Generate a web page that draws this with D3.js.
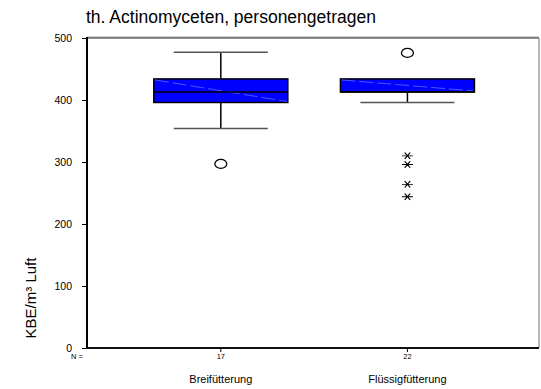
<!DOCTYPE html>
<html>
<head>
<meta charset="utf-8">
<script src="https://cdn.jsdelivr.net/npm/d3@7"></script>
<style>
  body { margin: 0; background: #fff; }
  text { font-family: "Liberation Sans", Arial, sans-serif; fill: #000; }
</style>
</head>
<body>
<div id="chart"></div>
<script>
// data
const categories = ['Breifütterung', 'Flüssigfütterung'];
const counts = [17, 22];
const q1 = [396, 413];
const medians = [413, 413];
const q3 = [434, 434];
const whiskerLow = [354, 396];
const whiskerHigh = [477, 434];
const outliers = [[297], [476]];             // circles
const extremes = [[], [310, 296, 264, 244]]; // asterisks
const yTicks = [0, 100, 200, 300, 400, 500];

const W = 541, H = 389;
const pLeft = 87, pRight = 539, pTop = 38, pBottom = 348;

const svg = d3.select('#chart').append('svg')
    .attr('width', W)
    .attr('height', H);

const x = d3.scaleLinear().domain([0.283, 2.705]).range([pLeft, pRight]);
const y = d3.scaleLinear().domain([0, 500]).range([pBottom, pTop]);

const boxW = 134, capW = 94;

// frame (top + right, greyish)
svg.append('line').attr('x1', pLeft).attr('x2', pRight).attr('y1', pTop - 1).attr('y2', pTop - 1)
    .attr('stroke', '#aaa').attr('stroke-width', 1);
svg.append('line').attr('x1', pLeft).attr('x2', pRight).attr('y1', pTop).attr('y2', pTop)
    .attr('stroke', '#222').attr('stroke-width', 1);
svg.append('line').attr('x1', pRight).attr('x2', pRight).attr('y1', pTop).attr('y2', pBottom)
    .attr('stroke', '#888').attr('stroke-width', 1.2);

// y axis
const yAxis = d3.axisLeft(y).tickValues(yTicks).tickSize(5).tickPadding(10);
const ya = svg.append('g').attr('transform', `translate(${pLeft},0)`).call(yAxis);
ya.select('.domain').remove();
ya.selectAll('.tick line').attr('stroke', '#000');
ya.selectAll('.tick text').style('font-size', '10.5px');
svg.append('line').attr('x1', pLeft).attr('x2', pLeft).attr('y1', pTop - 1).attr('y2', pBottom + 1)
    .attr('stroke', '#000').attr('stroke-width', 2);

// x axis
svg.append('line').attr('x1', pLeft - 1).attr('x2', pRight).attr('y1', pBottom).attr('y2', pBottom)
    .attr('stroke', '#111').attr('stroke-width', 2);
categories.forEach((c, i) => {
    const cx = x(i + 1);
    svg.append('line').attr('x1', cx).attr('x2', cx).attr('y1', pBottom).attr('y2', pBottom + 4)
        .attr('stroke', '#000').attr('stroke-width', 1);
    svg.append('text').attr('x', cx).attr('y', 359).attr('text-anchor', 'middle')
        .style('font-size', '7.5px').text(counts[i]);
    svg.append('text').attr('x', cx).attr('y', 383).attr('text-anchor', 'middle')
        .style('font-size', '11px').text(c);
});
svg.append('text').attr('x', 77).attr('y', 359).attr('text-anchor', 'middle')
    .style('font-size', '7.5px').text('N =');

const star = d3.symbol().type(d3.symbolAsterisk).size(70);

// boxes
categories.forEach((c, i) => {
    const cx = x(i + 1);
    const g = svg.append('g');
    // whiskers
    g.append('line').attr('x1', cx).attr('x2', cx).attr('y1', y(q3[i])).attr('y2', y(whiskerHigh[i]))
        .attr('stroke', '#000').attr('stroke-width', 1.5);
    g.append('line').attr('x1', cx).attr('x2', cx).attr('y1', y(q1[i])).attr('y2', y(whiskerLow[i]))
        .attr('stroke', '#000').attr('stroke-width', 1.5);
    if (whiskerHigh[i] !== q3[i]) {
        g.append('line').attr('x1', cx - capW / 2).attr('x2', cx + capW / 2)
            .attr('y1', y(whiskerHigh[i])).attr('y2', y(whiskerHigh[i]))
            .attr('stroke', '#555').attr('stroke-width', 1.5);
    }
    g.append('line').attr('x1', cx - capW / 2).attr('x2', cx + capW / 2)
        .attr('y1', y(whiskerLow[i])).attr('y2', y(whiskerLow[i]))
        .attr('stroke', '#555').attr('stroke-width', 1.5);
    // box
    g.append('rect').attr('x', cx - boxW / 2).attr('y', y(q3[i]))
        .attr('width', boxW).attr('height', y(q1[i]) - y(q3[i]))
        .attr('fill', '#0000ff').attr('stroke', '#000').attr('stroke-width', 1.5);
    g.append('line').attr('x1', cx - boxW / 2 + 1).attr('x2', cx + boxW / 2 - 1)
        .attr('y1', y(q3[i]) + 1).attr('y2', y(q1[i]) - 1)
        .attr('stroke', '#6f8cff').attr('stroke-width', 0.8).attr('stroke-dasharray', '14,4')
        .attr('opacity', 0.8);
    g.append('line').attr('x1', cx - boxW / 2).attr('x2', cx + boxW / 2)
        .attr('y1', y(medians[i])).attr('y2', y(medians[i]))
        .attr('stroke', '#000').attr('stroke-width', 1.5);
    // outliers
    outliers[i].forEach(v => {
        g.append('ellipse').attr('cx', cx).attr('cy', y(v)).attr('rx', 6).attr('ry', 4.5)
            .attr('fill', 'none').attr('stroke', '#000').attr('stroke-width', 1.3);
    });
    extremes[i].forEach(v => {
        g.append('path').attr('d', star)
            .attr('transform', `translate(${cx},${y(v)}) rotate(90) scale(0.75,1.1)`)
            .attr('fill', 'none').attr('stroke', '#000').attr('stroke-width', 1.1);
    });
});

// title
svg.append('text').attr('x', 86).attr('y', 23).style('font-size', '17.5px')
    .text('th. Actinomyceten, personengetragen');

// y label
svg.append('text').attr('transform', 'translate(36,298) rotate(-90)')
    .attr('text-anchor', 'middle').style('font-size', '15px')
    .text('KBE/m³ Luft');
</script>
</body>
</html>
